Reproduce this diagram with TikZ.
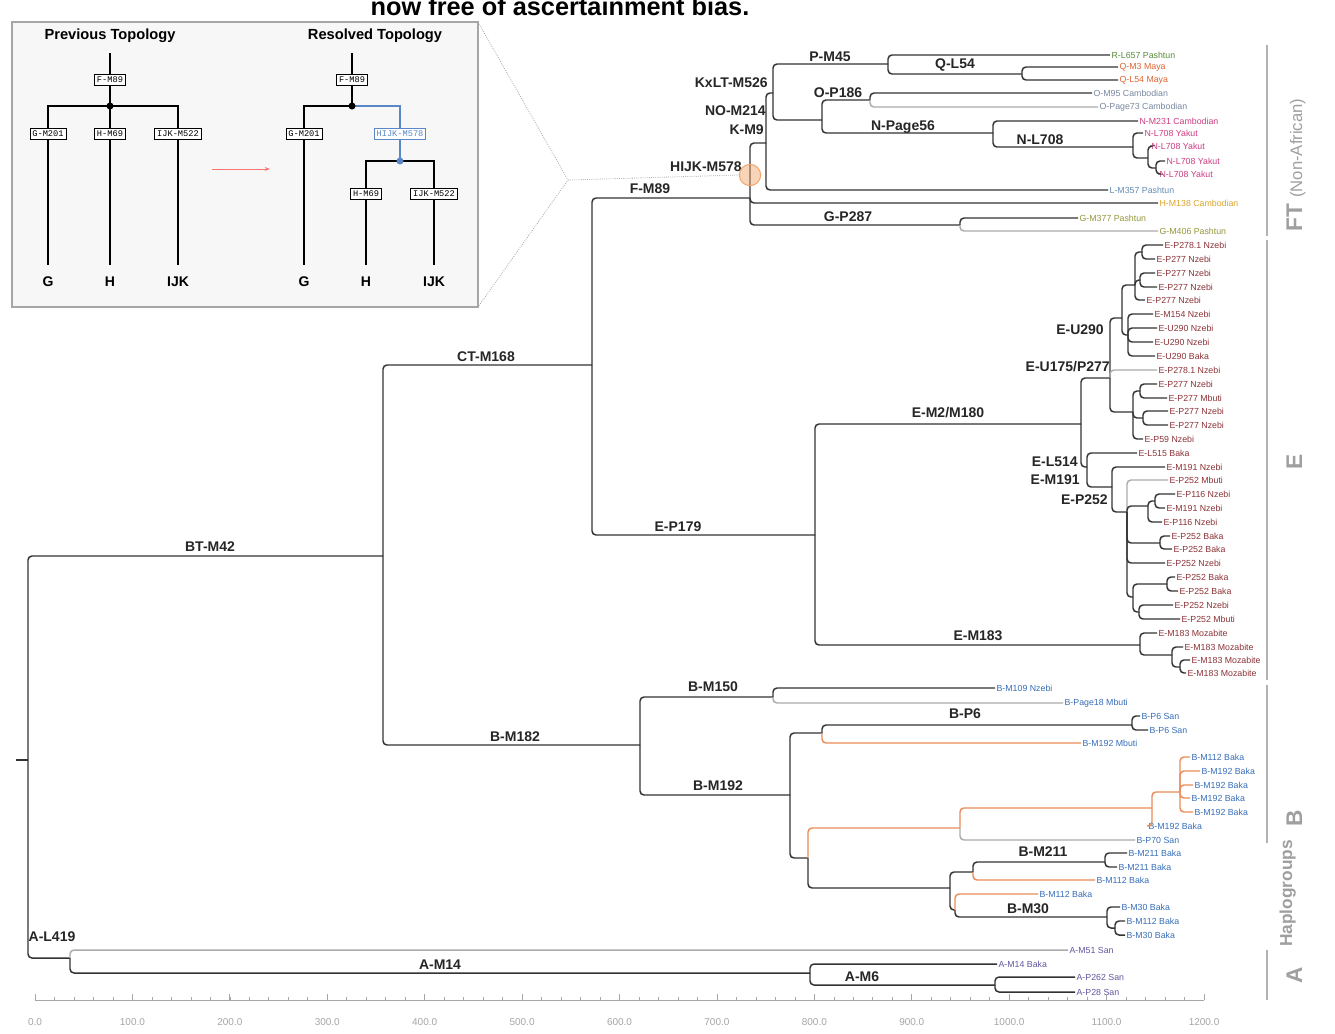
\documentclass[tikz,border=0pt]{standalone}
\usepackage{fontspec}
\setmainfont{Liberation Sans}
\setmonofont{Liberation Mono}
\definecolor{LeafR}{RGB}{90,140,60}
\definecolor{LeafQ}{RGB}{222,100,50}
\definecolor{LeafO}{RGB}{120,135,160}
\definecolor{LeafN}{RGB}{205,60,130}
\definecolor{LeafL}{RGB}{100,140,180}
\definecolor{LeafH}{RGB}{220,165,40}
\definecolor{LeafG}{RGB}{150,150,60}
\definecolor{LeafE}{RGB}{140,50,55}
\definecolor{LeafB}{RGB}{55,110,185}
\definecolor{LeafA}{RGB}{100,85,160}
\definecolor{LineOrange}{RGB}{235,140,90}
\definecolor{InsetBlue}{RGB}{90,135,200}
\definecolor{HubOrange}{RGB}{240,160,100}
\usetikzlibrary{arrows.meta}

\begin{document}
\begin{tikzpicture}[x=0.75pt,y=-0.75pt,
  twig/.style={draw=black!80,line width=1.1pt,rounded corners=3pt},
  twiggray/.style={twig,draw=gray!65},
  twigorange/.style={twig,draw=LineOrange},
  leaf/.style={anchor=west,inner xsep=1pt,inner ysep=0pt,font=\fontsize{6.6}{6.6}\selectfont},
  clade/.style={inner sep=0pt,font=\bfseries\fontsize{10.5}{10.5}\selectfont,text=black!85},
  tag/.style={draw,fill=white,line width=0.5pt,inner sep=1.8pt,font=\ttfamily\fontsize{6.5}{6.5}\selectfont},
  stem/.style={draw=black,line width=1.1pt},
  grp/.style={rotate=90,anchor=base,inner sep=0pt,text=gray!75,font=\bfseries\fontsize{17}{17}\selectfont},
  ticklabel/.style={inner sep=0pt,text=gray!70,font=\fontsize{7.5}{7.5}\selectfont}]
\useasboundingbox (0,0) rectangle (1335,1033);
\clip (0,0) rectangle (1335,1033);
\fill[white] (0,0) rectangle (1335,1033);

% title, cut at the top edge
\node[anchor=base,inner sep=0pt,font=\bfseries\fontsize{19}{19}\selectfont]
  (title) at (560,15) {now free of ascertainment bias.};

% inset: previous and resolved topology
\fill[gray!6] (12,22) rectangle (478,307);
\draw[gray!70,line width=0.8pt] (12,22) rectangle (478,307);
\coordinate (insetNE) at (478,22);
\coordinate (insetSE) at (478,307);
\node[font=\bfseries\fontsize{11}{11}\selectfont] (prevtitle) at (110,36) {Previous Topology};
\node[font=\bfseries\fontsize{11}{11}\selectfont] (restitle) at (375,36) {Resolved Topology};
\coordinate (pTop) at (110,53);
\coordinate (pJ) at (110,106);
\coordinate (pG) at (48,265);
\coordinate (pH) at (110,265);
\coordinate (pI) at (178,265);
\draw[stem] (pTop) -- (pJ);
\draw[stem] (pJ) -| (pG);
\draw[stem] (pJ) -- (pH);
\draw[stem] (pJ) -| (pI);
\fill (pJ) circle (3.5);
\node[tag] (pF89) at (110,80) {F-M89};
\node[tag] (pG201) at (48,134) {G-M201};
\node[tag] (pH69) at (110,134) {H-M69};
\node[tag] (pI522) at (178,134) {IJK-M522};
\coordinate (rTop) at (352,53);
\coordinate (rJ) at (352,106);
\coordinate (rG) at (304,265);
\coordinate (rHI) at (400,161);
\coordinate (rH) at (366,265);
\coordinate (rI) at (434,265);
\draw[stem] (rTop) -- (rJ);
\draw[stem] (rJ) -| (rG);
\draw[stem,draw=InsetBlue] (rJ) -| (rHI);
\draw[stem] (rHI) -| (rH);
\draw[stem] (rHI) -| (rI);
\fill (rJ) circle (3.5);
\fill[InsetBlue] (rHI) circle (3.5);
\node[tag] (rF89) at (352,80) {F-M89};
\node[tag] (rG201) at (304,134) {G-M201};
\node[tag,draw=InsetBlue,text=InsetBlue] (rHIJK) at (400,134) {HIJK-M578};
\node[tag] (rH69) at (366,194) {H-M69};
\node[tag] (rI522) at (434,194) {IJK-M522};
\foreach \nm/\xx/\tx in {gP/48/G,hP/110/H,iP/178/IJK,gR/304/G,hR/366/H,iR/434/IJK}
  \node[font=\bfseries\fontsize{10.5}{10.5}\selectfont] (\nm) at (\xx,282) {\tx};
\coordinate (arrS) at (212,169);
\coordinate (arrE) at (270,169);
\draw[red!55,line width=0.7pt,-{Stealth[length=4pt,width=3pt]}] (arrS) -- (arrE);

% internal nodes of the tree
\foreach \nm/\xx/\yy in {root/28/760,BT/383/556,CT/592/365,Fn/750/198,K/766/143,
    KxLT/773/93,PM45/888/64,QL54/1022/74,NO/822/120,OP186/870/100,NP56/993/133,
    NL708/1133/147,n2/1148/158,n3/1156/168,GP287/960/225,
    EP179/815/535,EM2/1081/424,v/1110/378,u/1122/318,t/1135/285,t1/1142/252,
    t2/1140/280,u2/1128/335,w/1133/412,w1/1140/391,w2/1143/418,L514/1087/467,
    M191/1112/487,P252/1127/512,pa/1148/506,pa1/1155/501,pb/1160/543,pc/1133/597,
    pd/1167/584,pe/1139/612,EM183/1140/645,m2/1172/655,m3/1180/667,
    BM182/640/745,BM150/773/697,BM192/790/795,bb1/822/733,BP6/1132/725,
    bb2/808/858,bb3/960/828,bb4/1152/808,bb5/1180/792,bb6/950/888,bb7/973/872,
    BM211/1105/862,bb8/955/910,BM30/1107/917,bb9/1115/928,
    AL/70/958,AM6/810/973,AM6b/995/985}
  \coordinate (\nm) at (\xx,\yy);
\coordinate (stub) at (16,760);

% leaves
\foreach \nm/\xx/\yy/\col/\tx in {ft1/1110/55/LeafR/R-L657 Pashtun,
    ft2/1118/67/LeafQ/Q-M3 Maya,ft3/1118/80/LeafQ/Q-L54 Maya,
    ft4/1092/93/LeafO/O-M95 Cambodian,ft5/1098/107/LeafO/O-Page73 Cambodian,
    ft6/1138/121/LeafN/N-M231 Cambodian,ft7/1143/133/LeafN/N-L708 Yakut,
    ft8/1150/146/LeafN/N-L708 Yakut,ft9/1165/161/LeafN/N-L708 Yakut,
    ft10/1158/174/LeafN/N-L708 Yakut,ft11/1108/190/LeafL/L-M357 Pashtun,
    ft12/1158/203/LeafH/H-M138 Cambodian,ft13/1078/218/LeafG/G-M377 Pashtun,
    ft14/1158/231/LeafG/G-M406 Pashtun}
  \node[leaf,text=\col] (\nm) at (\xx,\yy) {\tx};
\foreach \nm/\xx/\yy/\tx in {e1/1163/245/E-P278.1 Nzebi,e2/1155/259/E-P277 Nzebi,
    e3/1155/273/E-P277 Nzebi,e4/1157/287/E-P277 Nzebi,e5/1145/300/E-P277 Nzebi,
    e6/1153/314/E-M154 Nzebi,e7/1157/328/E-U290 Nzebi,e8/1153/342/E-U290 Nzebi,
    e9/1155/356/E-U290 Baka,e10/1157/370/E-P278.1 Nzebi,e11/1157/384/E-P277 Nzebi,
    e12/1167/398/E-P277 Mbuti,e13/1168/411/E-P277 Nzebi,e14/1168/425/E-P277 Nzebi,
    e15/1143/439/E-P59 Nzebi,e16/1137/453/E-L515 Baka,e17/1165/467/E-M191 Nzebi,
    e18/1168/480/E-P252 Mbuti,e19/1175/494/E-P116 Nzebi,e20/1165/508/E-M191 Nzebi,
    e21/1162/522/E-P116 Nzebi,e22/1170/536/E-P252 Baka,e23/1172/549/E-P252 Baka,
    e24/1165/563/E-P252 Nzebi,e25/1175/577/E-P252 Baka,e26/1178/591/E-P252 Baka,
    e27/1173/605/E-P252 Nzebi,e28/1180/619/E-P252 Mbuti,e29/1157/633/E-M183 Mozabite,
    e30/1183/647/E-M183 Mozabite,e31/1190/660/E-M183 Mozabite,e32/1186/673/E-M183 Mozabite}
  \node[leaf,text=LeafE] (\nm) at (\xx,\yy) {\tx};
\foreach \nm/\xx/\yy/\tx in {b1/995/688/B-M109 Nzebi,b2/1063/703/B-Page18 Mbuti,
    b3/1140/716/B-P6 San,b4/1148/730/B-P6 San,b5/1081/743/B-M192 Mbuti,
    b6/1190/757/B-M112 Baka,b7/1200/771/B-M192 Baka,b8/1193/785/B-M192 Baka,
    b9/1190/798/B-M192 Baka,b10/1193/812/B-M192 Baka,b11/1147/826/B-M192 Baka,
    b12/1135/840/B-P70 San,b13/1127/853/B-M211 Baka,b14/1117/867/B-M211 Baka,
    b15/1095/880/B-M112 Baka,b16/1038/894/B-M112 Baka,b17/1120/907/B-M30 Baka,
    b18/1125/921/B-M112 Baka,b19/1125/935/B-M30 Baka}
  \node[leaf,text=LeafB] (\nm) at (\xx,\yy) {\tx};
\foreach \nm/\xx/\yy/\tx in {a1/1068/950/A-M51 San,a2/997/964/A-M14 Baka,
    a3/1075/977/A-P262 San,a4/1075/992/A-P28 San}
  \node[leaf,text=LeafA] (\nm) at (\xx,\yy) {\tx};

% branches
\draw[twig] (stub) -- (root);
\foreach \pnode/\cnode/\sty in {root/BT/twig,root/AL/twig,BT/CT/twig,BT/BM182/twig,
    CT/Fn/twig,CT/EP179/twig,Fn/K/twig,Fn/ft12.west/twig,Fn/GP287/twig,
    K/KxLT/twig,K/ft11.west/twig,KxLT/PM45/twig,KxLT/NO/twig,
    PM45/ft1.west/twig,PM45/QL54/twig,QL54/ft2.west/twig,QL54/ft3.west/twig,
    NO/OP186/twig,NO/NP56/twig,OP186/ft4.west/twig,OP186/ft5.west/twiggray,
    NP56/ft6.west/twig,NP56/NL708/twig,NL708/ft7.west/twig,NL708/n2/twig,
    n2/ft8.west/twig,n2/n3/twig,n3/ft9.west/twig,n3/ft10.west/twig,
    GP287/ft13.west/twig,GP287/ft14.west/twiggray,
    EP179/EM2/twig,EP179/EM183/twig,EM2/v/twig,EM2/L514/twig,
    v/u/twig,v/e10.west/twiggray,v/w/twig,u/t/twig,u/u2/twig,
    t/t1/twig,t/t2/twig,t/e5.west/twig,t1/e1.west/twig,t1/e2.west/twig,
    t2/e3.west/twig,t2/e4.west/twig,
    u2/e6.west/twig,u2/e7.west/twig,u2/e8.west/twig,u2/e9.west/twig,
    w/w1/twig,w/w2/twig,w/e15.west/twig,w1/e11.west/twig,w1/e12.west/twig,
    w2/e13.west/twig,w2/e14.west/twig,
    L514/e16.west/twig,L514/M191/twig,M191/e17.west/twig,M191/P252/twig,
    P252/e18.west/twiggray,P252/pa/twig,P252/pb/twig,P252/e24.west/twig,P252/pc/twig,
    pa/pa1/twig,pa/e21.west/twig,pa1/e19.west/twig,pa1/e20.west/twig,
    pb/e22.west/twig,pb/e23.west/twig,pc/pd/twig,pc/pe/twig,
    pd/e25.west/twig,pd/e26.west/twig,pe/e27.west/twig,pe/e28.west/twig,
    EM183/e29.west/twig,EM183/m2/twig,m2/e30.west/twig,m2/m3/twig,
    m3/e31.west/twig,m3/e32.west/twig,
    BM182/BM150/twig,BM182/BM192/twig,BM150/b1.west/twig,BM150/b2.west/twiggray,
    BM192/bb1/twig,BM192/bb2/twig,bb1/BP6/twig,bb1/b5.west/twigorange,
    BP6/b3.west/twig,BP6/b4.west/twig,bb2/bb3/twigorange,bb2/bb6/twig,
    bb3/bb4/twigorange,bb3/b12.west/twiggray,bb4/bb5/twigorange,bb4/b11.west/twigorange,
    bb5/b6.west/twigorange,bb5/b7.west/twigorange,bb5/b8.west/twigorange,
    bb5/b9.west/twigorange,bb5/b10.west/twigorange,
    bb6/bb7/twig,bb6/bb8/twig,bb7/BM211/twig,bb7/b15.west/twigorange,
    BM211/b13.west/twig,BM211/b14.west/twig,bb8/b16.west/twigorange,bb8/BM30/twig,
    BM30/b17.west/twig,BM30/bb9/twig,bb9/b18.west/twig,bb9/b19.west/twig,
    AL/a1.west/twiggray,AL/AM6/twig,AM6/a2.west/twig,AM6/AM6b/twig,
    AM6b/a3.west/twig,AM6b/a4.west/twig}
  \draw[\sty] (\pnode) |- (\cnode);

% clade labels
\foreach \nm/\xx/\yy/\tx in {lBT/210/547/BT-M42,lCT/486/357/CT-M168,lF/650/189/F-M89,
    lEP/678/527/E-P179,lBM182/515/737/B-M182,lAL/52/937/A-L419,lAM14/440/965/A-M14,
    lAM6/862/977/A-M6,lP/830/57/P-M45,lQ/955/65/Q-L54,lO/838/93/O-P186,
    lNP/903/127/N-Page56,lNL/1040/140/N-L708,lG/848/217/G-P287,
    lEM2/948/413/{E-M2/M180},lEM183/978/636/E-M183,lBM150/713/687/B-M150,
    lBP6/965/714/B-P6,lBM192/718/786/B-M192,lBM211/1043/852/B-M211,lBM30/1028/909/B-M30}
  \node[clade] (\nm) at (\xx,\yy) {\tx};
\foreach \nm/\xx/\yy/\tx in {lKxLT/768/83/KxLT-M526,lNO/766/111/NO-M214,lK/764/130/K-M9,
    lHIJK/742/167/HIJK-M578,lU290/1104/330/E-U290,lU175/1110/367/{E-U175/P277},
    lL514/1078/462/E-L514,lM191/1080/480/E-M191,lP252/1108/500/E-P252}
  \node[clade,anchor=east] (\nm) at (\xx,\yy) {\tx};

% resolved node and its link to the inset
\node[circle,draw=HubOrange,fill=HubOrange,fill opacity=0.45,draw opacity=0.9,
      line width=0.8pt,minimum size=16pt,inner sep=0pt] (hub) at (750,175) {};
\coordinate (apex) at (568,180);
\draw[gray!70,densely dotted,line width=0.6pt] (insetNE) -- (apex) -- (insetSE);
\draw[gray!70,densely dotted,line width=0.6pt] (apex) -- (hub.west);

% time axis
\draw[gray!70,line width=0.7pt] (35,1000) -- (1204,1000);
\foreach \v in {20,40,...,1180}{
  \pgfmathsetmacro{\xx}{35+0.9742*\v}
  \draw[gray!70,line width=0.5pt] (\xx,1000) -- (\xx,997);
}
\foreach \v in {0,100,...,1200}{
  \pgfmathsetmacro{\xx}{35+0.9742*\v}
  \draw[gray!70,line width=0.6pt] (\xx,1000) -- (\xx,994);
  \node[ticklabel] (tk\v) at (\xx,1022) {\v.0};
}

% haplogroup bars
\foreach \ya/\yb in {45/236,240/680,685/843,950/1000}
  \draw[gray!60,line width=2.2pt] (1267,\ya) -- (1267,\yb);
\node[grp,anchor=base west] (gFT) at (1302,232) {FT\ {\mdseries\fontsize{12.5}{12.5}\selectfont(Non-African)}};
\node[grp] (gE) at (1302,462) {E};
\node[grp] (gB) at (1302,818) {B};
\node[grp] (gA) at (1302,975) {A};
\node[grp,anchor=base west,font=\bfseries\fontsize{13}{13}\selectfont] (gHap) at (1292,947) {Haplogroups};
\end{tikzpicture}
\end{document}
